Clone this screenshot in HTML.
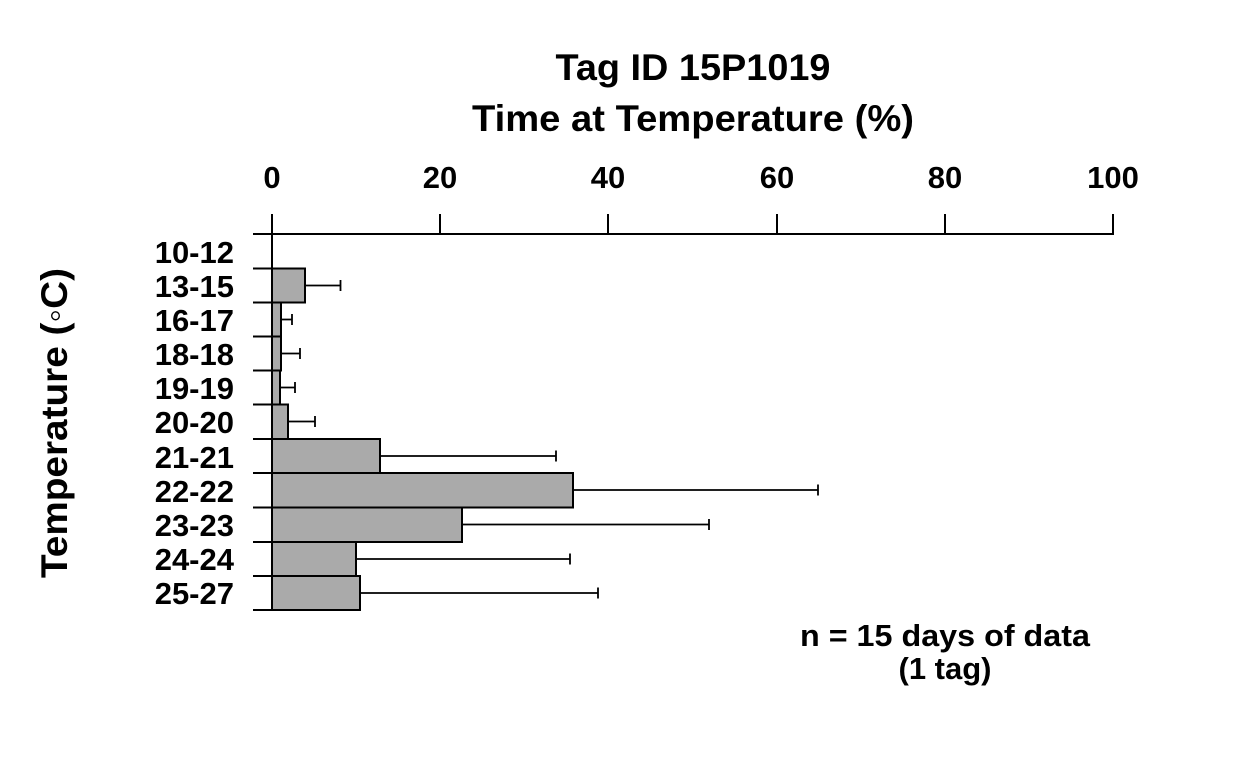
<!DOCTYPE html>
<html><head><meta charset="utf-8"><style>
html,body{margin:0;padding:0;background:#fff;}
svg text{font-family:"Liberation Sans",sans-serif;font-weight:bold;fill:#000;}
</style></head><body>
<svg width="1248" height="768" viewBox="0 0 1248 768" xmlns="http://www.w3.org/2000/svg">
<rect width="1248" height="768" fill="#fff"/>
<text x="693" y="80" font-size="37" text-anchor="middle" textLength="275" lengthAdjust="spacingAndGlyphs">Tag ID 15P1019</text>
<text x="693" y="131" font-size="37" text-anchor="middle" textLength="442" lengthAdjust="spacingAndGlyphs">Time at Temperature (%)</text>
<g font-size="31" text-anchor="middle">
<text x="272" y="188">0</text><text x="440" y="188">20</text><text x="608" y="188">40</text>
<text x="777" y="188">60</text><text x="945" y="188">80</text><text x="1113" y="188">100</text>
</g>
<g stroke="#000" stroke-width="2" fill="none">
<line x1="253" y1="234" x2="1114" y2="234"/>
<line x1="272" y1="214" x2="272" y2="610"/>
<line x1="440" y1="214" x2="440" y2="234"/><line x1="608" y1="214" x2="608" y2="234"/>
<line x1="777" y1="214" x2="777" y2="234"/><line x1="945" y1="214" x2="945" y2="234"/>
<line x1="1113" y1="214" x2="1113" y2="234"/>
</g>
<g fill="#aaaaaa" stroke="#000" stroke-width="2">
<rect x="272" y="268.5" width="33" height="34"/>
<rect x="272" y="302.5" width="9" height="34"/>
<rect x="272" y="336.5" width="9" height="34"/>
<rect x="272" y="370.5" width="8" height="34"/>
<rect x="272" y="404.5" width="16" height="34.5"/>
<rect x="272" y="439" width="108" height="34"/>
<rect x="272" y="473" width="301" height="34.5"/>
<rect x="272" y="507.5" width="190" height="34.5"/>
<rect x="272" y="542" width="84" height="34"/>
<rect x="272" y="576" width="88" height="34"/>
</g>
<g stroke="#000" stroke-width="2">
<line x1="253" y1="268.5" x2="272" y2="268.5"/><line x1="253" y1="302.5" x2="272" y2="302.5"/>
<line x1="253" y1="336.5" x2="272" y2="336.5"/><line x1="253" y1="370.5" x2="272" y2="370.5"/>
<line x1="253" y1="404.5" x2="272" y2="404.5"/><line x1="253" y1="439" x2="272" y2="439"/>
<line x1="253" y1="473" x2="272" y2="473"/><line x1="253" y1="507.5" x2="272" y2="507.5"/>
<line x1="253" y1="542" x2="272" y2="542"/><line x1="253" y1="576" x2="272" y2="576"/>
<line x1="253" y1="610" x2="272" y2="610"/>
</g>
<g stroke="#000" stroke-width="1.8">
<path d="M305 285.5H340.5M340.5 280V291"/>
<path d="M281 319.5H292M292 314V325"/>
<path d="M281 353.5H300M300 348V359"/>
<path d="M280 387.5H295M295 382V393"/>
<path d="M288 421.5H315M315 416V427"/>
<path d="M380 456H556M556 450.5V461.5"/>
<path d="M573 490H818M818 484.5V495.5"/>
<path d="M462 524.5H709M709 519V530"/>
<path d="M356 559H570M570 553.5V564.5"/>
<path d="M360 593H598M598 587.5V598.5"/>
</g>
<g font-size="31" text-anchor="end">
<text x="234" y="263">10-12</text><text x="234" y="297">13-15</text><text x="234" y="331">16-17</text>
<text x="234" y="365">18-18</text><text x="234" y="399">19-19</text><text x="234" y="433">20-20</text>
<text x="234" y="468">21-21</text><text x="234" y="502">22-22</text><text x="234" y="536">23-23</text>
<text x="234" y="570">24-24</text><text x="234" y="604">25-27</text>
</g>
<text transform="translate(67,423) rotate(-90)" font-size="37" text-anchor="middle" textLength="310" lengthAdjust="spacingAndGlyphs">Temperature (◦C)</text>
<text x="945" y="646" font-size="31" text-anchor="middle" textLength="290" lengthAdjust="spacingAndGlyphs">n = 15 days of data</text>
<text x="945" y="679" font-size="31" text-anchor="middle">(1 tag)</text>
</svg>
</body></html>
